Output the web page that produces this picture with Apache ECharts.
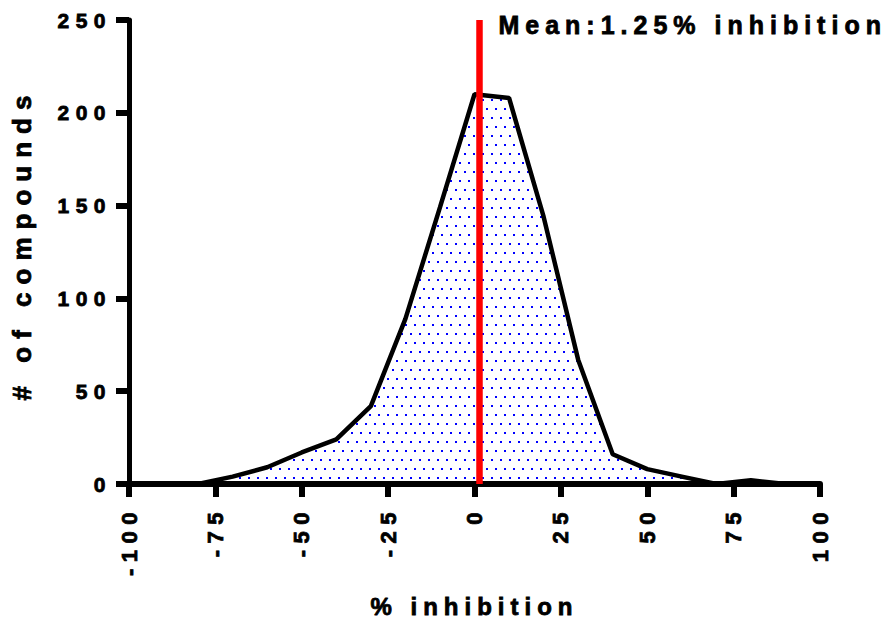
<!DOCTYPE html>
<html>
<head>
<meta charset="utf-8">
<script src="https://cdn.jsdelivr.net/npm/echarts@6/dist/echarts.min.js"></script>
<style>
html, body { margin: 0; padding: 0; background: #fff; }
#main { width: 891px; height: 618px; }
/* Prism-style wide letter spacing on the chart texts */
#main text { letter-spacing: 6.5px; }
#main text[style*="26px"] { letter-spacing: 8px; }
#main text[style*="25px"] { letter-spacing: 6px; }
#main text[style*="24px"] { letter-spacing: 6px; }
</style>
</head>
<body>
<div id="main"></div>
<script>
// bin centres (% inhibition) and number of compounds per bin
var binCentres = [-100, -90, -80, -70, -60, -50, -40, -30, -20, -10, 0, 10, 20, 30, 40, 50, 60, 70, 80, 90, 100];
var compoundCounts = [0, 0, 0, 4, 9, 17, 24, 42, 89, 149, 210, 208, 144, 67, 16, 8, 4, 0, 2, 0, 0];
var meanInhibition = 1.25;
var xTicks = [-100, -75, -50, -25, 0, 25, 50, 75, 100];
var yTicks = [0, 50, 100, 150, 200, 250];

var fontFam = '"Liberation Sans", Arial, sans-serif';
var boldText = {fontFamily: fontFam, fontWeight: 'bold', color: '#000', textBorderColor: '#000', textBorderWidth: 0.8};

// dotted blue fill tile
var tile = document.createElement('canvas');
tile.width = 9;
tile.height = 18;
var tc = tile.getContext('2d');
tc.fillStyle = '#0000ff';
tc.fillRect(0, 0, 2, 2);
tc.fillRect(5, 9, 2, 2);
var dotUrl = tile.toDataURL();

var myChart = echarts.init(document.getElementById('main'), null, {renderer: 'svg'});

var option = {
    animation: false,
    backgroundColor: '#fff',
    grid: {left: 129, right: 71, top: 20, bottom: 134, containLabel: false, outerBoundsMode: 'none'},
    xAxis: {
        type: 'value',
        min: xTicks[0],
        max: xTicks[xTicks.length - 1],
        interval: 25,
        name: '% inhibition',
        nameLocation: 'middle',
        nameGap: 110,
        nameTextStyle: Object.assign({fontSize: 24}, boldText),
        axisLine: {onZero: false, lineStyle: {color: '#000', width: 6}},
        axisTick: {length: 13, lineStyle: {color: '#000', width: 6}},
        axisLabel: Object.assign({rotate: 90, margin: 22, fontSize: 22}, boldText),
        splitLine: {show: false}
    },
    yAxis: {
        type: 'value',
        min: yTicks[0],
        max: yTicks[yTicks.length - 1],
        interval: 50,
        name: '# of compounds',
        nameLocation: 'middle',
        nameGap: 94,
        nameTextStyle: Object.assign({fontSize: 26, padding: [0, 0, 0, 16]}, boldText),
        axisLine: {show: true, onZero: false, lineStyle: {color: '#000', width: 5}},
        axisTick: {show: true, length: 13, lineStyle: {color: '#000', width: 6}},
        axisLabel: Object.assign({margin: 17, fontSize: 21}, boldText),
        splitLine: {show: false}
    },
    series: [
        {
            type: 'line',
            data: binCentres.map(function (x, i) { return [x, compoundCounts[i]]; }),
            symbol: 'none',
            lineStyle: {color: '#000', width: 4.5},
            areaStyle: {color: {image: dotUrl, repeat: 'repeat'}, opacity: 1},
            z: 2
        },
        {
            type: 'line',
            data: [],
            z: 3,
            markLine: {
                silent: true,
                symbol: 'none',
                label: {show: false},
                lineStyle: {color: '#ff0000', width: 6.5, type: 'solid'},
                data: [[{coord: [meanInhibition, 0]}, {coord: [meanInhibition, 250]}]]
            }
        }
    ],
    graphic: [{
        type: 'text',
        left: 498,
        top: 12,
        style: {
            text: 'Mean:1.25% inhibition',
            fontFamily: fontFam, fontWeight: 'bold', fontSize: 25, fill: '#000',
            stroke: '#000', lineWidth: 0.8
        }
    }]
};

myChart.setOption(option);
</script>
</body>
</html>
